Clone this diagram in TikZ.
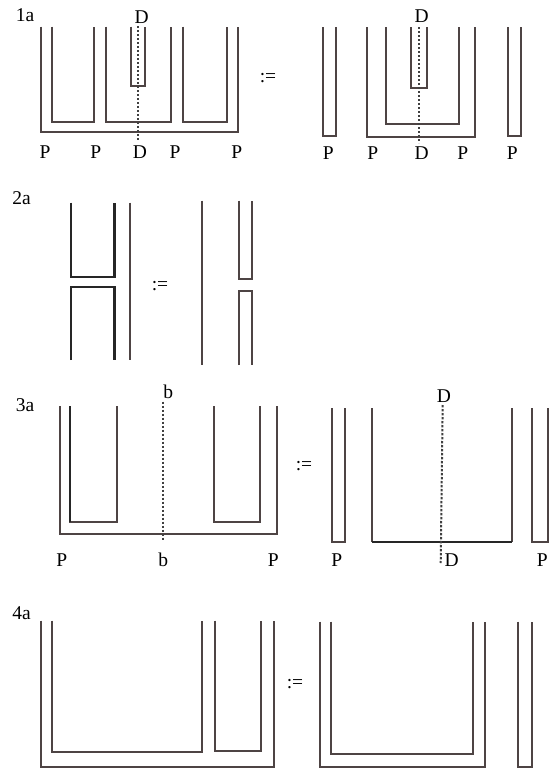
\documentclass[tikz,border=0pt]{standalone}
\usepackage{fontspec}
\setmainfont{Liberation Serif}
\definecolor{WireGrey}{RGB}{78,68,68}

\begin{document}
\begin{tikzpicture}[x=1pt, y=-1pt,
    wire/.style={line width=1.9pt, draw=WireGrey},
    heavy/.style={line width=2.4pt, draw=black!85},
    cutline/.style={line width=2pt, draw=black!75, dash pattern=on 2.4pt off 1.6pt},
    lbl/.style={font=\fontsize{19.5}{21}\selectfont, inner sep=0pt},
    defn/.style={font=\fontsize{19.5}{21}\selectfont, inner sep=0pt}]
    \useasboundingbox (0,0) rectangle (556,769);

    % Panel 1a, left side
    \node[lbl] (n1a) at (25,15) {1a};
    \draw[wire] (40.7,26.7) |- (238,131.7) -- (238,26.7);
    \draw[wire] (51.7,26.7) |- (94,122.3) -- (94,26.7);
    \draw[wire] (106,26.7) |- (170.7,122.3) -- (170.7,26.7);
    \draw[wire] (182.7,26.7) |- (227.3,122.3) -- (227.3,26.7);
    \draw[wire] (131,26.7) |- (145,86) -- (145,26.7);
    \node[lbl] (d1t) at (141.7,17) {D};
    \coordinate (c1t) at (138.3,26);
    \coordinate (c1b) at (138.3,141);
    \draw[cutline] (c1t) -- (c1b);
    \node[lbl] (p1a) at (45,151.7) {P};
    \node[lbl] (p1b) at (95.7,151.7) {P};
    \node[lbl] (d1b) at (140,151.7) {D};
    \node[lbl] (p1c) at (175,151.7) {P};
    \node[lbl] (p1d) at (236.7,151.7) {P};
    \node[defn] (eq1) at (268,78) {:=};

    % Panel 1a, right side
    \draw[wire] (323.3,27) |- (336,136) -- (336,27);
    \draw[wire] (367.3,27) |- (475,136.7) -- (475,27);
    \draw[wire] (386,27) |- (459.3,124) -- (459.3,27);
    \draw[wire] (410.7,27) |- (426.7,88.3) -- (426.7,27);
    \draw[wire] (508.3,27) |- (521,136) -- (521,27);
    \node[lbl] (d1rt) at (421.7,16) {D};
    \coordinate (c1rt) at (419.3,27);
    \coordinate (c1rb) at (419.3,143);
    \draw[cutline] (c1rt) -- (c1rb);
    \node[lbl] (p1ra) at (328.3,152.7) {P};
    \node[lbl] (p1rb) at (372.7,152.7) {P};
    \node[lbl] (d1rb) at (421.7,152.7) {D};
    \node[lbl] (p1rc) at (462.7,152.7) {P};
    \node[lbl] (p1rd) at (512.3,152.7) {P};

    % Panel 2a
    \node[lbl] (n2a) at (21.7,198.3) {2a};
    \draw[heavy] (71,202.7) |- (114.3,276.7) -- (114.3,202.7);
    \draw[heavy] (71,360) |- (114.3,286.7) -- (114.3,360);
    \draw[wire] (130,202.7) -- (130,360);
    \node[defn] (eq2) at (160,286) {:=};
    \draw[wire] (201.7,200.7) -- (201.7,365);
    \draw[wire] (239.3,200.7) |- (251.7,279.3) -- (251.7,200.7);
    \draw[wire] (239.3,365) |- (251.7,290.7) -- (251.7,365);

    % Panel 3a, left side
    \node[lbl] (n3a) at (25,405) {3a};
    \draw[wire] (60,406) |- (277.3,534.3) -- (277.3,406);
    \draw[wire] (70,406) |- (116.7,522.3) -- (116.7,406);
    \draw[heavy] (70,406) -- (70,522.3);
    \draw[wire] (214.3,406) |- (260,522.3) -- (260,406);
    \node[lbl] (b3t) at (168.3,392) {b};
    \coordinate (c3t) at (163.3,401.7);
    \coordinate (c3b) at (163.3,540);
    \draw[cutline] (c3t) -- (c3b);
    \node[lbl] (p3a) at (61.7,560) {P};
    \node[lbl] (b3b) at (163.3,560) {b};
    \node[lbl] (p3b) at (273.3,560) {P};
    \node[defn] (eq3) at (304,466) {:=};

    % Panel 3a, right side
    \draw[wire] (331.7,408.3) |- (345,541.7) -- (345,408.3);
    \draw[wire] (371.7,408.3) -- (371.7,541.7);
    \draw[wire] (511.7,408.3) -- (511.7,541.7);
    \draw[heavy] (371.7,541.7) -- (511.7,541.7);
    \draw[wire] (532.3,408.3) |- (547.7,541.7) -- (547.7,408.3);
    \node[lbl] (d3t) at (444,396) {D};
    \coordinate (c3rt) at (442.7,405);
    \coordinate (c3rb) at (440.7,563);
    \draw[cutline] (c3rt) -- (c3rb);
    \node[lbl] (p3ra) at (336.7,560) {P};
    \node[lbl] (d3b) at (451.7,560) {D};
    \node[lbl] (p3rb) at (542.3,560) {P};

    % Panel 4a, left side
    \node[lbl] (n4a) at (21.7,613.3) {4a};
    \draw[wire] (40.7,620.7) |- (274,766.7) -- (274,620.7);
    \draw[wire] (52.3,620.7) |- (201.7,752.3) -- (201.7,620.7);
    \draw[wire] (215,620.7) |- (260.7,750.7) -- (260.7,620.7);
    \node[defn] (eq4) at (295,684) {:=};

    % Panel 4a, right side
    \draw[wire] (320,621.7) |- (485,767.3) -- (485,621.7);
    \draw[wire] (331,621.7) |- (473.3,754.3) -- (473.3,621.7);
    \draw[wire] (517.7,621.7) |- (532.3,767.3) -- (532.3,621.7);
\end{tikzpicture}
\end{document}
